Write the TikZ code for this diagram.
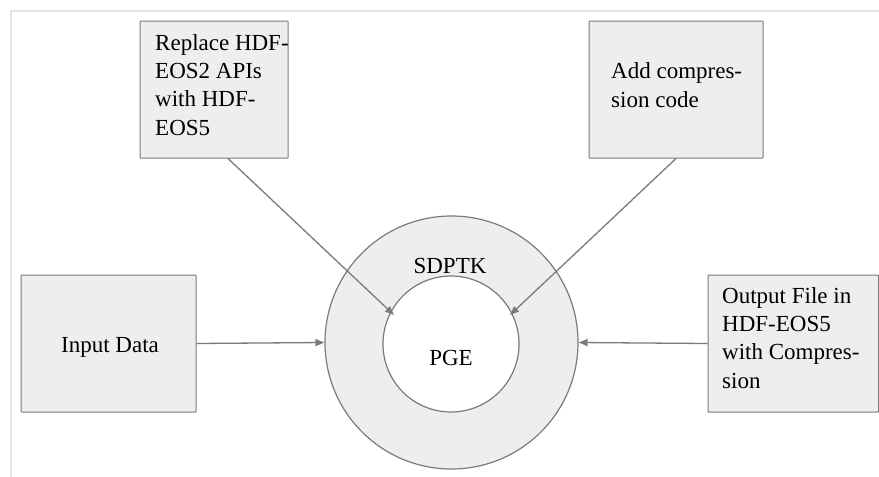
\documentclass[tikz,border=0pt]{standalone}
\usepackage{fontspec}
\setmainfont{Liberation Serif}
\usetikzlibrary{arrows.meta}
\definecolor{boxfill}{HTML}{EEEEEE}
\definecolor{edgegray}{HTML}{7A7A7A}
\definecolor{frameline}{HTML}{E3E3E3}
\begin{document}
\begin{tikzpicture}[x=1pt,y=-1pt,
  box/.style={draw=edgegray, fill=boxfill, line width=1pt, inner sep=0pt, rounded corners=0.5pt},
  txt/.style={inner sep=0pt, align=left, font=\fontsize{23}{28.4}\selectfont},
  ring/.style={circle, draw=edgegray, line width=1.2pt, inner sep=0pt},
  arr/.style={draw=edgegray, line width=1.3pt, -{Triangle[length=9pt,width=7pt]}}]
\useasboundingbox (0,0) rectangle (879,477);
\draw[frameline, line width=2.5pt] (11,477) -- (11,11) -- (879,11);
% boxes
\node[box, minimum width=148pt, minimum height=137pt] (b1) at (214,89.5) {};
\node[box, minimum width=174pt, minimum height=137pt] (b2) at (676,89.5) {};
\node[box, minimum width=175pt, minimum height=137pt] (inp) at (108.5,343.5) {};
\node[box, minimum width=170.5pt, minimum height=137pt] (out) at (793.25,343.5) {};
% texts
\node[txt, anchor=west] (t1) at (155,84.9) {Replace HDF-\\EOS2 APIs\\with HDF-\\EOS5};
\node[txt, anchor=west] (t2) at (611,85.3) {Add compres-\\sion code};
\node[txt, anchor=base] (t3) at (110,352) {Input Data};
\node[txt, anchor=west] (t4) at (722,337.9) {Output File in\\HDF-EOS5\\with Compres-\\sion};
% circles
\node[ring, fill=boxfill, minimum size=253pt] (sdptk) at (451.5,342.5) {};
\node[ring, fill=white, minimum size=136pt] (pge) at (451,344) {};
\node[txt, anchor=base] (sl) at (450,273) {SDPTK};
\node[txt, anchor=base] (pl) at (451,365) {PGE};
% arrows
\coordinate (e1) at (394,315);
\coordinate (e2) at (510,315);
\draw[arr] ([xshift=14pt]b1.south) -- (e1);
\draw[arr] (b2.south) -- (e2);
\draw[arr] (inp.east) -- (sdptk.west);
\draw[arr] (out.west) -- (sdptk.east);
\end{tikzpicture}
\end{document}
